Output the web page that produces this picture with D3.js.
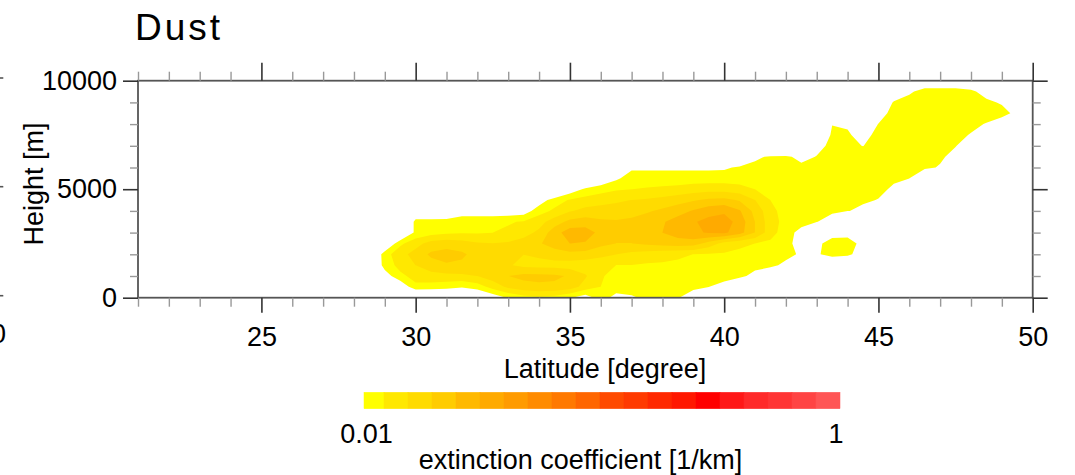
<!DOCTYPE html>
<html><head><meta charset="utf-8">
<script src="https://cdn.jsdelivr.net/npm/d3@7"></script>
<style>
body{margin:0;background:#fff}
svg{display:block}
text{font-family:"Liberation Sans",Arial,Helvetica,sans-serif;fill:#000}
</style>
</head><body>
<svg id="c" width="1075" height="475"></svg>
<script>
// ---------------- data ----------------
const titleText = "Dust";
const xLabel = "Latitude [degree]";
const yLabel = "Height [m]";
const cbLabel = "extinction coefficient [1/km]";

const xDomain = [21, 50];
const yDomain = [0, 10000];
const xMajorTicks = [25, 30, 35, 40, 45, 50];
const xMinorTicks = [21,22,23,24,26,27,28,29,31,32,33,34,36,37,38,39,41,42,43,44,46,47,48,49];
const yMajorTicks = [0, 5000, 10000];
const yMinorTicks = [1000,2000,3000,4000,6000,7000,8000,9000];

// grid of the field: latitude columns (deg) and height rows (m)
const gridLats = [28,28.5,29,29.5,30,30.5,31,31.5,32,32.5,33,33.5,34,34.5,35,35.5,36,36.5,37,37.5,38,38.5,39,39.5,40,40.5,41,41.5,42,42.5,43,43.5,44,44.5,45,45.5,46,46.5,47,47.5,48,48.5,49,49.5,50];
const gridHeights = [0,500,1000,1500,2000,2500,3000,3500,4000,4500,5000,5500,6000,6500,7000,7500,8000,8500,9000,9500,10000];

// dust extinction coefficient [1/km], one row per height
const extinction = [
[0,0,0,0,0.00562,0.00631,0.00631,0.00708,0.00708,0.00851,0.01023,0.01148,0.01202,0.01148,0.01023,0.00871,0.01122,0.00912,0.00955,0.01072,0.01096,0.01023,0.00794,0.00631,0,0,0,0,0,0,0,0,0,0,0,0,0,0,0,0,0,0,0,0,0],
[0,0,0,0.00794,0.01202,0.01148,0.01096,0.01023,0.01122,0.01380,0.01660,0.01820,0.01905,0.01905,0.01778,0.01445,0.01259,0.01148,0.01175,0.01202,0.01202,0.01148,0.01096,0.01005,0.00891,0.00631,0,0,0,0,0,0,0,0,0,0,0,0,0,0,0,0,0,0,0],
[0,0,0.00871,0.01202,0.01349,0.01445,0.01479,0.01514,0.01585,0.01778,0.01995,0.02138,0.02138,0.02089,0.01950,0.01622,0.01288,0.01175,0.01175,0.01202,0.01202,0.01202,0.01175,0.01148,0.01122,0.01096,0.00891,0.00631,0,0,0,0,0,0,0,0,0,0,0,0,0,0,0,0,0],
[0,0.00631,0.01122,0.01349,0.01585,0.01820,0.01950,0.01905,0.01778,0.01738,0.01622,0.01479,0.01445,0.01445,0.01413,0.01380,0.01318,0.01259,0.01259,0.01230,0.01230,0.01230,0.01202,0.01202,0.01175,0.01148,0.01122,0.01122,0.00891,0.00631,0,0.00631,0.00631,0,0,0,0,0,0,0,0,0,0,0,0],
[0,0.00631,0.01148,0.01445,0.01738,0.02089,0.02188,0.02089,0.01820,0.01660,0.01585,0.01585,0.01660,0.01778,0.01862,0.01820,0.01698,0.01585,0.01479,0.01413,0.01349,0.01288,0.01259,0.01230,0.01230,0.01202,0.01175,0.01148,0.01148,0.00933,0.00955,0.01148,0.01072,0.00851,0,0,0,0,0,0,0,0,0,0,0],
[0,0,0.00708,0.01202,0.01445,0.01738,0.01820,0.01738,0.01622,0.01585,0.01622,0.01738,0.01950,0.02239,0.02512,0.02455,0.02138,0.01995,0.01995,0.02089,0.02188,0.02291,0.02239,0.01820,0.01445,0.01318,0.01259,0.01202,0.01122,0.00851,0.00912,0.01175,0.01175,0.00891,0,0,0,0,0,0,0,0,0,0,0],
[0,0,0,0.00631,0.01072,0.01148,0.01202,0.01230,0.01230,0.01259,0.01318,0.01445,0.01660,0.02291,0.02818,0.02818,0.02344,0.02138,0.02138,0.02291,0.02512,0.02754,0.03020,0.03236,0.03311,0.02754,0.01995,0.01380,0.01122,0.00912,0.00631,0.00851,0.00871,0.00631,0,0,0,0,0,0,0,0,0,0,0],
[0,0,0,0,0.01148,0.01148,0.01175,0.01202,0.01202,0.01202,0.01230,0.01288,0.01445,0.01778,0.02138,0.02239,0.02089,0.02042,0.02089,0.02239,0.02455,0.02754,0.03090,0.03388,0.03548,0.02884,0.01995,0.01380,0.01175,0.01096,0.01012,0.00851,0,0,0,0,0,0,0,0,0,0,0,0,0],
[0,0,0,0,0.00631,0.00631,0.00631,0.00832,0.00832,0.00832,0.00851,0.00871,0.01148,0.01318,0.01549,0.01698,0.01738,0.01778,0.01862,0.01950,0.02089,0.02291,0.02570,0.02884,0.03020,0.02570,0.01862,0.01349,0.01148,0.01096,0.01072,0.01059,0.01012,0.00933,0,0,0,0,0,0,0,0,0,0,0],
[0,0,0,0,0,0,0,0,0,0,0,0.00631,0.00871,0.01122,0.01288,0.01380,0.01445,0.01514,0.01585,0.01622,0.01698,0.01820,0.01950,0.02089,0.02138,0.01950,0.01585,0.01259,0.01122,0.01096,0.01084,0.01072,0.01072,0.01047,0.00989,0.00708,0,0,0,0,0,0,0,0,0],
[0,0,0,0,0,0,0,0,0,0,0,0,0,0.00631,0.00851,0.01047,0.01148,0.01230,0.01259,0.01288,0.01318,0.01349,0.01413,0.01445,0.01445,0.01380,0.01259,0.01148,0.01096,0.01084,0.01084,0.01084,0.01072,0.01072,0.01072,0.00955,0.00631,0,0,0,0,0,0,0,0],
[0,0,0,0,0,0,0,0,0,0,0,0,0,0,0,0.00631,0.00794,0.00955,0.01122,0.01122,0.01122,0.01122,0.01122,0.01122,0.01122,0.01122,0.01122,0.01122,0.01109,0.01109,0.01109,0.01096,0.01096,0.01096,0.01084,0.01047,0.01005,0.00708,0,0,0,0,0,0,0],
[0,0,0,0,0,0,0,0,0,0,0,0,0,0,0,0,0,0.00631,0.00955,0.00955,0.00955,0.00955,0.00955,0.00955,0.00966,0.01035,0.01096,0.01122,0.01109,0.01072,0.01109,0.01122,0.01122,0.01122,0.01122,0.01109,0.01096,0.01059,0.00977,0.00631,0,0,0,0,0],
[0,0,0,0,0,0,0,0,0,0,0,0,0,0,0,0,0,0,0,0,0,0,0,0,0.00631,0.00708,0.00933,0.01047,0.01059,0.00912,0.01012,0.01096,0.01109,0.01122,0.01122,0.01122,0.01109,0.01084,0.01047,0.00912,0.00631,0,0,0,0],
[0,0,0,0,0,0,0,0,0,0,0,0,0,0,0,0,0,0,0,0,0,0,0,0,0,0,0,0,0,0.00708,0.00912,0.01072,0.01047,0.00995,0.01096,0.01122,0.01122,0.01109,0.01072,0.01012,0.00851,0.00631,0,0,0],
[0,0,0,0,0,0,0,0,0,0,0,0,0,0,0,0,0,0,0,0,0,0,0,0,0,0,0,0,0,0,0.00708,0.01047,0.01047,0.00871,0.01122,0.01122,0.01122,0.01122,0.01096,0.01047,0.00989,0.00708,0,0,0],
[0,0,0,0,0,0,0,0,0,0,0,0,0,0,0,0,0,0,0,0,0,0,0,0,0,0,0,0,0,0,0.00631,0.00993,0.00955,0.00851,0.01005,0.01096,0.01122,0.01122,0.01122,0.01109,0.01047,0.00989,0.00891,0.00631,0],
[0,0,0,0,0,0,0,0,0,0,0,0,0,0,0,0,0,0,0,0,0,0,0,0,0,0,0,0,0,0,0,0,0,0.00631,0.00912,0.01072,0.01122,0.01122,0.01122,0.01122,0.01109,0.01084,0.01072,0.00944,0.00631],
[0,0,0,0,0,0,0,0,0,0,0,0,0,0,0,0,0,0,0,0,0,0,0,0,0,0,0,0,0,0,0,0,0,0,0.00794,0.01023,0.01122,0.01135,0.01135,0.01122,0.01096,0.01047,0.00977,0.00708,0],
[0,0,0,0,0,0,0,0,0,0,0,0,0,0,0,0,0,0,0,0,0,0,0,0,0,0,0,0,0,0,0,0,0,0,0,0.00832,0.00955,0.01109,0.01109,0.01109,0.01047,0.00912,0.00631,0,0],
[0,0,0,0,0,0,0,0,0,0,0,0,0,0,0,0,0,0,0,0,0,0,0,0,0,0,0,0,0,0,0,0,0,0,0,0,0,0.00794,0.00794,0.00794,0.00794,0,0,0,0]
];

// colour levels (lower bounds, 1/km) and colours
const levelBounds = [0.01,0.0126,0.0158,0.02,0.0251,0.0316,0.0398,0.0501,0.0631,0.0794,0.1,0.126,0.158,0.2,0.251,0.316,0.398,0.501,0.631,0.794];
const levelColors = ["#ffff00","#ffe800","#ffdb00","#ffcc00","#ffb900","#ffaa00","#ff9b00","#ff8b00","#ff7900","#ff6600","#ff4a00","#ff3a00","#ff2800","#ff1800","#ff0000","#ff1818","#ff2a2a","#ff3535","#ff4444","#ff5555"];
const cbTickLabels = ["0.01", "1"];

// ---------------- drawing ----------------
const svg = d3.select("#c");
const W = 1075, H = 475;
svg.append("rect").attr("width", W).attr("height", H).attr("fill", "#fff");

const L = 138, R = 1032.7, T = 80.7, B = 297.7;
const x = d3.scaleLinear().domain(xDomain).range([L, R]);
const y = d3.scaleLinear().domain(yDomain).range([B, T]);

svg.append("clipPath").attr("id", "plotclip")
  .append("rect").attr("x", L).attr("y", T).attr("width", R - L).attr("height", B - T);

// contours
const nx = gridLats.length, ny = gridHeights.length;
const vals = [];
for (let j = 0; j < ny; j++) for (let i = 0; i < nx; i++) vals.push(Math.log10(Math.max(extinction[j][i], 0.004)));
const thresholds = levelBounds.map(v => Math.log10(v));
const contours = d3.contours().size([nx, ny]).smooth(true).thresholds(thresholds)(vals);
const dLat = gridLats[1] - gridLats[0], dH = gridHeights[1] - gridHeights[0];
const proj = d3.geoTransform({
  point: function(px, py) {
    this.stream.point(x(gridLats[0] + (px - 0.5) * dLat), y(gridHeights[0] + (py - 0.5) * dH));
  }
});
const path = d3.geoPath(proj);
const gc = svg.append("g").attr("clip-path", "url(#plotclip)");
contours.forEach((c, k) => {
  if (!c.coordinates.length) return;
  gc.append("path").attr("d", path(c)).attr("fill", levelColors[k]).attr("stroke", "none");
});

// frame
svg.append("rect").attr("x", L).attr("y", T).attr("width", R - L).attr("height", B - T)
  .attr("fill", "none").attr("stroke", "#555").attr("stroke-width", 1.8);

function styleAxis(g, col, w) {
  g.select(".domain").remove();
  g.selectAll(".tick line").attr("stroke", col).attr("stroke-width", w);
}
// minor ticks
svg.append("g").attr("transform", `translate(0,${B})`)
  .call(d3.axisBottom(x).tickValues(xMinorTicks).tickSize(9).tickFormat(""))
  .call(g => styleAxis(g, "#999", 1.4));
svg.append("g").attr("transform", `translate(0,${T})`)
  .call(d3.axisTop(x).tickValues(xMinorTicks).tickSize(9).tickFormat(""))
  .call(g => styleAxis(g, "#999", 1.4));
svg.append("g").attr("transform", `translate(${L},0)`)
  .call(d3.axisLeft(y).tickValues(yMinorTicks).tickSize(8).tickFormat(""))
  .call(g => styleAxis(g, "#999", 1.4));
svg.append("g").attr("transform", `translate(${R},0)`)
  .call(d3.axisRight(y).tickValues(yMinorTicks).tickSize(8).tickFormat(""))
  .call(g => styleAxis(g, "#999", 1.4));

// major ticks + labels
const gx = svg.append("g").attr("transform", `translate(0,${B})`)
  .call(d3.axisBottom(x).tickValues(xMajorTicks).tickSize(15).tickPadding(14).tickFormat(d3.format("d")))
  .call(g => styleAxis(g, "#333", 1.6));
gx.selectAll("text").attr("font-size", 27).attr("font-family", "Liberation Sans, Arial, sans-serif").attr("fill", "#000");
svg.append("g").attr("transform", `translate(0,${T})`)
  .call(d3.axisTop(x).tickValues(xMajorTicks).tickSize(18).tickFormat(""))
  .call(g => styleAxis(g, "#333", 1.6));
const gy = svg.append("g").attr("transform", `translate(${L},0)`)
  .call(d3.axisLeft(y).tickValues(yMajorTicks).tickSize(15).tickPadding(6).tickFormat(d3.format("d")))
  .call(g => styleAxis(g, "#333", 1.6));
gy.selectAll("text").attr("font-size", 27).attr("font-family", "Liberation Sans, Arial, sans-serif").attr("fill", "#000");
svg.append("g").attr("transform", `translate(${R},0)`)
  .call(d3.axisRight(y).tickValues(yMajorTicks).tickSize(15).tickFormat(""))
  .call(g => styleAxis(g, "#333", 1.6));

// axis titles
svg.append("text").attr("x", 605).attr("y", 378).attr("text-anchor", "middle")
  .attr("font-size", 27).text(xLabel);
svg.append("text").attr("transform", "translate(43,184) rotate(-90)").attr("text-anchor", "middle")
  .attr("font-size", 27).text(yLabel);

// title
svg.append("text").attr("x", 135).attr("y", 40).attr("font-size", 37).attr("letter-spacing", 3)
  .text(titleText);

// fragments of the neighbouring panel at the left edge
[78, 186.7, 295.7].forEach(yy => svg.append("line").attr("x1", -10).attr("x2", 3.3)
  .attr("y1", yy).attr("y2", yy).attr("stroke", "#555").attr("stroke-width", 1.6));
svg.append("text").attr("x", -9).attr("y", 343).attr("text-anchor", "middle").attr("font-size", 27).text("50");

// colour bar
const cb = d3.scaleLinear().domain([0, levelColors.length]).range([360, 840]);
const cbY = 392.3, cbH = 16.4;
svg.append("g").selectAll("rect").data(levelColors).join("rect")
  .attr("x", (d, i) => Math.max(cb(i), 364))
  .attr("width", (d, i) => cb(i + 1) - Math.max(cb(i), 364))
  .attr("y", cbY).attr("height", cbH).attr("fill", d => d).attr("stroke", d => d).attr("stroke-width", 0.5);
svg.append("text").attr("x", 366.5).attr("y", 443).attr("text-anchor", "middle").attr("font-size", 27).text(cbTickLabels[0]);
svg.append("text").attr("x", 836).attr("y", 443).attr("text-anchor", "middle").attr("font-size", 27).text(cbTickLabels[1]);
svg.append("text").attr("x", 580.5).attr("y", 469).attr("text-anchor", "middle").attr("font-size", 27).text(cbLabel);
</script>
</body></html>
